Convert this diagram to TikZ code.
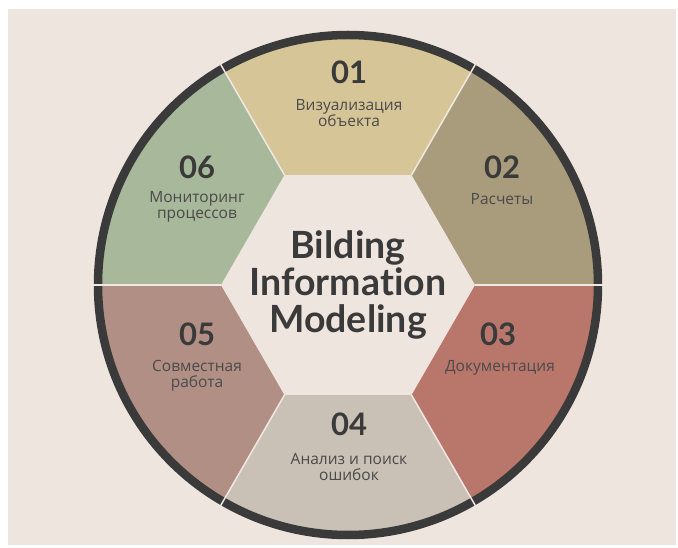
\documentclass[tikz,border=0pt]{standalone}
\usepackage{fontspec}
\setmainfont{Open Sans}
\newfontfamily\titlefont[Ligatures=NoCommon]{Lato}
\usetikzlibrary{positioning}

\definecolor{bgbeige}{RGB}{238,229,223}
\definecolor{ink}{RGB}{58,58,58}
\definecolor{secA}{RGB}{214,197,151}
\definecolor{secB}{RGB}{169,156,125}
\definecolor{secC}{RGB}{185,119,107}
\definecolor{secD}{RGB}{201,192,182}
\definecolor{secE}{RGB}{177,143,132}
\definecolor{secF}{RGB}{168,184,154}

\begin{document}
\begin{tikzpicture}[x=1pt,y=1pt,
  num/.style={font=\titlefont\bfseries\fontsize{31}{31}\selectfont,text=ink},
  lbl/.style={font=\fontsize{15.5}{16.5}\selectfont,text=ink!92,align=center},
  divider/.style={draw=bgbeige!90!white,line width=1.5},
  title/.style={font=\titlefont\bfseries\fontsize{37.5}{37}\selectfont,text=ink,align=center}]

\useasboundingbox (0,0) rectangle (678,547);
\fill [white] (0,0) rectangle (678,547);
\fill [bgbeige] (8,2) rectangle (676,538);

\begin{scope}[shift={(348,262)}]

\fill [secA] (0,0) -- (60:250) arc [start angle=60,end angle=120,radius=250] -- cycle;
\fill [secF] (0,0) -- (120:250) arc [start angle=120,end angle=180,radius=250] -- cycle;
\fill [secE] (0,0) -- (180:250) arc [start angle=180,end angle=240,radius=250] -- cycle;
\fill [secD] (0,0) -- (240:250) arc [start angle=240,end angle=300,radius=250] -- cycle;
\fill [secC] (0,0) -- (300:250) arc [start angle=300,end angle=360,radius=250] -- cycle;
\fill [secB] (0,0) -- (0:250) arc [start angle=0,end angle=60,radius=250] -- cycle;

\fill [bgbeige] (0:127) -- (60:127) -- (120:127) -- (180:127) -- (240:127) -- (300:127) -- cycle;

\draw [ink,line width=8.5] (0,0) circle [radius=250];

\draw [divider] (0:127) -- (0:256);
\draw [divider] (60:127) -- (60:256);
\draw [divider] (120:127) -- (120:256);
\draw [divider] (180:127) -- (180:256);
\draw [divider] (240:127) -- (240:256);
\draw [divider] (300:127) -- (300:256);

\end{scope}

\node [title] (bim) at (348,262) {Bilding\\Information\\Modeling};

\node [num] (n01) at (349,475) {01};
\node [lbl] (t01) at (349,434) {Визуализация\\объекта};

\node [num] (n02) at (502,380) {02};
\node [lbl] (t02) at (502,348) {Расчеты};

\node [num] (n03) at (498,213) {03};
\node [lbl] (t03) at (500,179) {Документация};

\node [num] (n04) at (349,123) {04};
\node [lbl] (t04) at (349,80) {Анализ и поиск\\ошибок};

\node [num] (n05) at (197,213) {05};
\node [lbl] (t05) at (197,171) {Совместная\\работа};

\node [num] (n06) at (197,380) {06};
\node [lbl] (t06) at (197,340) {Мониторинг\\процессов};

\end{tikzpicture}
\end{document}
